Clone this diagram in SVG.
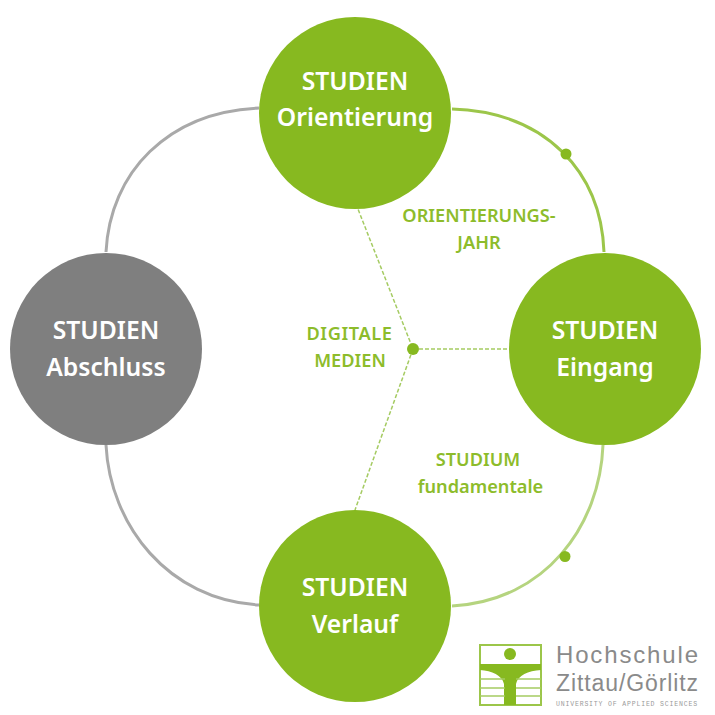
<svg xmlns="http://www.w3.org/2000/svg" width="715" height="715" viewBox="0 0 715 715">
<style>
text{font-family:"Noto Sans","Open Sans","DejaVu Sans",sans-serif;text-anchor:middle}
.g{fill:#87b920}
.n{font-size:24.7px;font-weight:600;fill:#fff}
.l{font-size:18.2px;font-weight:600;fill:#8dbc2b}
.c{fill:none;stroke-width:3}
.d{fill:none;stroke:#a5cb62;stroke-width:1.5;stroke-dasharray:4 2}
.t{text-anchor:start;font-family:"Liberation Sans",sans-serif;font-size:24px;fill:#8a8a8a}
</style>
<rect width="715" height="715" fill="#fff"/>
<g id="connectors">
<path class="c" stroke="#a9a9a9" d="M259 108C168 112 110 172 106 252"/>
<path class="c" stroke="#a9a9a9" d="M106 445C110 525 168 600 259 605"/>
<path class="c" stroke="#9cc64a" d="M452 109C546 112 601 172 604 252"/>
<path class="c" stroke="#b5d47f" d="M603 445C600 525 546 601 452 606"/>
<path class="d" d="M356 204L413 349L355 510M413 349H509"/>
<circle class="g" cx="566" cy="154" r="5.5"/>
<circle class="g" cx="565" cy="556.500" r="5.5"/>
<circle class="g" cx="413" cy="349" r="6"/>
</g>
<g id="node-orientierung"><circle class="g" cx="355" cy="113" r="96"/><text class="n" x="355" y="90">STUDIEN</text><text class="n" x="355" y="126">Orientierung</text></g>
<g id="node-eingang"><circle class="g" cx="605" cy="349" r="96"/><text class="n" x="605" y="339">STUDIEN</text><text class="n" x="605" y="376">Eingang</text></g>
<g id="node-verlauf"><circle class="g" cx="355" cy="606" r="96"/><text class="n" x="355" y="596">STUDIEN</text><text class="n" x="355" y="633">Verlauf</text></g>
<g id="node-abschluss"><circle cx="106" cy="349" r="96" fill="#7f7f7f"/><text class="n" x="106" y="339">STUDIEN</text><text class="n" x="106" y="376">Abschluss</text></g>
<g id="labels">
<text class="l" x="479" y="222">ORIENTIERUNGS-</text><text class="l" x="479" y="249">JAHR</text>
<text class="l" x="349.500" y="340" letter-spacing=".6">DIGITALE</text><text class="l" x="350" y="367">MEDIEN</text>
<text class="l" x="478" y="466">STUDIUM</text><text class="l" x="480.500" y="493">fundamentale</text>
</g>
<g id="logo">
<rect x="480" y="645" width="61" height="60" fill="none" stroke="#9cc64a" stroke-width="2"/>
<circle class="g" cx="510" cy="654" r="6"/>
<path class="g" d="M480 664H541V670C528 671 518 675 516 684V705H504V684C502 675 492 671 480 670Z"/>
<path d="M480 679H505M516 679H541M480 688H505M516 688H541M480 696H505M516 696H541" stroke="#a5cb62" stroke-width="1.5"/>
<text class="t" x="556" y="663" textLength="142">Hochschule</text>
<text class="t" x="556" y="691" textLength="142" style="font-size:23px">Zittau/Görlitz</text>
<text x="556" y="706" style="text-anchor:start;font-family:'Liberation Mono',monospace;font-size:6.5px;letter-spacing:.83px;fill:#9a9a9a">UNIVERSITY OF APPLIED SCIENCES</text>
</g>
</svg>
